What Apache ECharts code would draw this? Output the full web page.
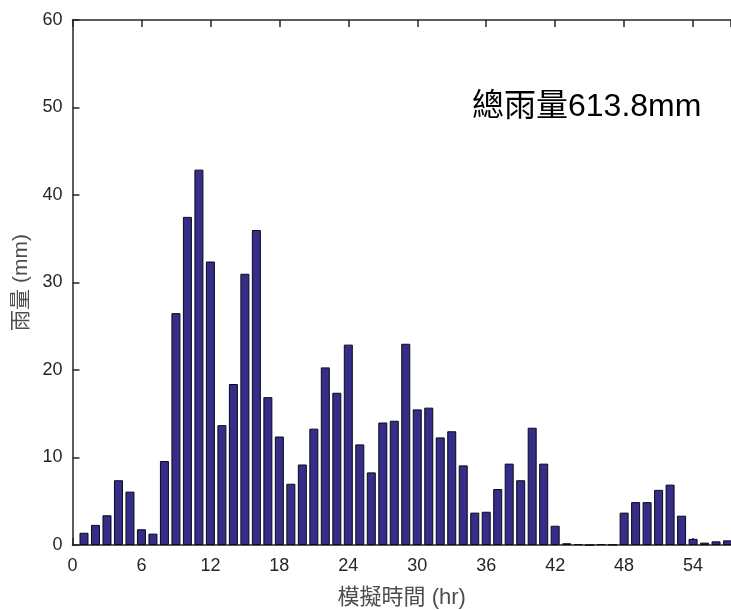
<!DOCTYPE html>
<html>
<head>
<meta charset="utf-8">
<script src="https://cdn.jsdelivr.net/npm/echarts@6/dist/echarts.min.js"></script>
<style>
  html, body { margin: 0; padding: 0; background: #fff; }
  #chart { width: 731px; height: 610px; }
</style>
</head>
<body>
<div id="chart"></div>
<script>
// 每小時雨量 (mm), hour 1..57
const hours = [];
for (let h = 1; h <= 57; h++) hours.push(h);
const rain = [
  1.4, 2.3, 3.4, 7.4, 6.1, 1.8, 1.3, 9.6, 26.5, 37.5,
  42.9, 32.4, 13.7, 18.4, 31.0, 36.0, 16.9, 12.4, 7.0, 9.2,
  13.3, 20.3, 17.4, 22.9, 11.5, 8.3, 14.0, 14.2, 23.0, 15.5,
  15.7, 12.3, 13.0, 9.1, 3.7, 3.8, 6.4, 9.3, 7.4, 13.4,
  9.3, 2.2, 0.2, 0.1, 0.0, 0.1, 0.05, 3.7, 4.9, 4.9,
  6.3, 6.9, 3.35, 0.7, 0.27, 0.42, 0.53
];
const xTicks = [0, 6, 12, 18, 24, 30, 36, 42, 48, 54];
const totalText = '總雨量613.8mm';

const font = '"Liberation Sans", Arial, "Noto Sans CJK TC", sans-serif';
const axisColor = '#262626';

const chart = echarts.init(document.getElementById('chart'));

const option = {
    animation: false,
    grid: { left: 72.5, right: 0, top: 20, bottom: 65, outerBoundsMode: 'none', containLabel: false },
    xAxis: [{
        type: 'value',
        min: 0,
        max: 57.3,
        interval: 6,
        name: '模擬時間 (hr)',
        nameLocation: 'middle',
        nameGap: 42,
        nameTextStyle: { fontFamily: font, fontSize: 22, color: '#4d4d4d' },
        axisLine: { lineStyle: { color: axisColor, width: 1.5 } },
        axisTick: { inside: true, length: 7, lineStyle: { color: axisColor, width: 1.5 } },
        axisLabel: {
            fontFamily: font, fontSize: 18, color: axisColor, margin: 12,
            showMaxLabel: false,
            formatter: v => xTicks.includes(v) ? String(v) : ''
        },
        splitLine: { show: false }
    }, {
        type: 'value',
        position: 'top',
        min: 0,
        max: 57.3,
        interval: 6,
        axisLine: { onZero: false, lineStyle: { color: axisColor, width: 1.5 } },
        axisTick: { inside: true, length: 7, lineStyle: { color: axisColor, width: 1.5 } },
        axisLabel: { show: false },
        splitLine: { show: false }
    }],
    yAxis: {
        type: 'value',
        min: 0,
        max: 60,
        interval: 10,
        name: '雨量 (mm)',
        nameLocation: 'middle',
        nameRotate: 90,
        nameGap: 40,
        nameTextStyle: { fontFamily: font, fontSize: 21, color: '#4d4d4d' },
        axisLine: { show: true, lineStyle: { color: axisColor, width: 1.5 } },
        axisTick: { show: true, inside: true, length: 7, lineStyle: { color: axisColor, width: 1.5 } },
        axisLabel: { fontFamily: font, fontSize: 18, color: axisColor, margin: 10 },
        splitLine: { show: false }
    },
    series: [{
        type: 'bar',
        xAxisIndex: 0,
        data: hours.map((h, i) => [h, rain[i]]),
        barWidth: 9,
        itemStyle: { color: '#352d88', borderColor: '#0a0a1a', borderWidth: 1 }
    }],
    graphic: [{
        type: 'text',
        left: 472,
        top: 91,
        style: { text: totalText, fontFamily: font, fontSize: 32, fill: '#000' }
    }]
};

chart.setOption(option);
</script>
</body>
</html>
